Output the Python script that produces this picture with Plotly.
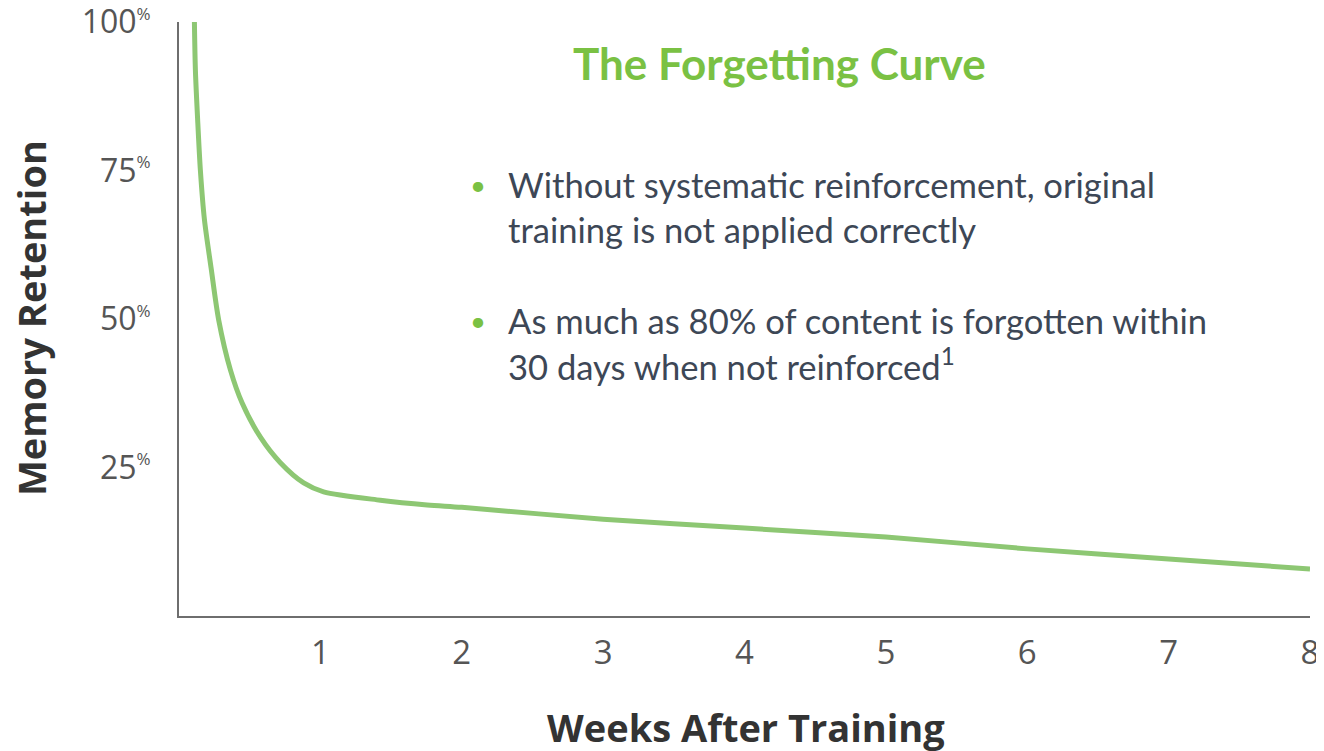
import plotly.graph_objects as go

# Data
weeks = [0.109, 0.116, 0.132, 0.151, 0.18, 0.227, 0.281, 0.364, 0.446, 0.576, 0.717, 0.882,
         1.023, 1.424, 1.755, 2, 3, 4, 5, 6, 7, 8]
retention = [100, 91.9, 83.5, 75.1, 66.7, 58.6, 49.8, 41.4, 35.9, 30.1, 25.8, 22.4,
             20.9, 19.5, 18.7, 18.3, 16.3, 14.8, 13.3, 11.3, 9.6, 7.9]
y_ticks = [25, 50, 75, 100]
y_labels = ["25", "50", "75", "100"]
x_ticks = [1, 2, 3, 4, 5, 6, 7, 8]

OFF = 8  # page body margin
W, H = 1324 - OFF, 751 - OFF
L, T = 179 - OFF, 22 - OFF
PR, PB = 1310 - OFF, 616 - OFF
R, B = W - PR, H - PB
PW, PH = PR - L, PB - T


def px(x):
    return (x - OFF - L) / PW


def py(y):
    return (PB - (y - OFF)) / PH


y_ticktext = [f"{v}<sup><span style='font-size:17px'>%</span></sup>" for v in y_labels]

fig = go.Figure()
fig.add_trace(go.Scatter(
    x=weeks, y=retention, mode="lines",
    line=dict(color="#8dc773", width=5, shape="spline", smoothing=0.8),
    hoverinfo="skip", showlegend=False,
))

TEXT = "#3d4756"
GREEN = "#7ac143"
ann = []
ann.append(dict(text="<b>The Forgetting Curve</b>", x=px(779), y=py(63),
                font=dict(family="Lato", size=44, color=GREEN)))
FS = 34.6
lines = [
    ("Without systematic reinforcement, original", 185, True),
    ("training is not applied correctly", 230, False),
    ("As much as 80% of content is forgotten within", 321, True),
    ("30 days when not reinforced<sup>1</sup>", 365, False),
]
for txt, yy, bullet in lines:
    ann.append(dict(text=txt, x=px(506), y=py(yy - 1), xanchor="left",
                    font=dict(family="Lato", size=FS, color=TEXT)))
    if bullet:
        ann.append(dict(text="•", x=px(478), y=py(yy - 1), xanchor="center",
                        font=dict(family="Lato", size=FS * 0.8, color=GREEN)))
ann.append(dict(text="<b>Memory Retention</b>", x=px(31), y=py(318), textangle=-90,
                font=dict(family="Open Sans", size=38, color="#333333")))
ann.append(dict(text="<b>Weeks After Training</b>", x=px(746), y=py(727),
                font=dict(family="Open Sans", size=38, color="#333333")))
for a in ann:
    a.setdefault("xanchor", "center")
    a.update(xref="paper", yref="paper", yanchor="middle", showarrow=False)

fig.update_layout(
    width=W, height=H,
    margin=dict(l=L, r=R, t=T, b=B, autoexpand=False),
    paper_bgcolor="white", plot_bgcolor="white",
    annotations=ann,
    xaxis=dict(range=[0, 8], tickvals=x_ticks, showgrid=False, zeroline=False,
               showline=True, linecolor="#6e6e6e", linewidth=2, automargin=False,
               ticks="", ticklabelstandoff=6, ticklabeloverflow="allow",
               tickfont=dict(family="Open Sans", size=33, color="#555555")),
    yaxis=dict(range=[0, 100], tickvals=y_ticks, ticktext=y_ticktext, showgrid=False,
               zeroline=False, showline=True, linecolor="#6e6e6e", linewidth=2,
               automargin=False, ticks="", ticklabelstandoff=20, ticklabeloverflow="allow",
               tickfont=dict(family="Open Sans", size=32, color="#555555")),
)

fig.write_html("out.html")
